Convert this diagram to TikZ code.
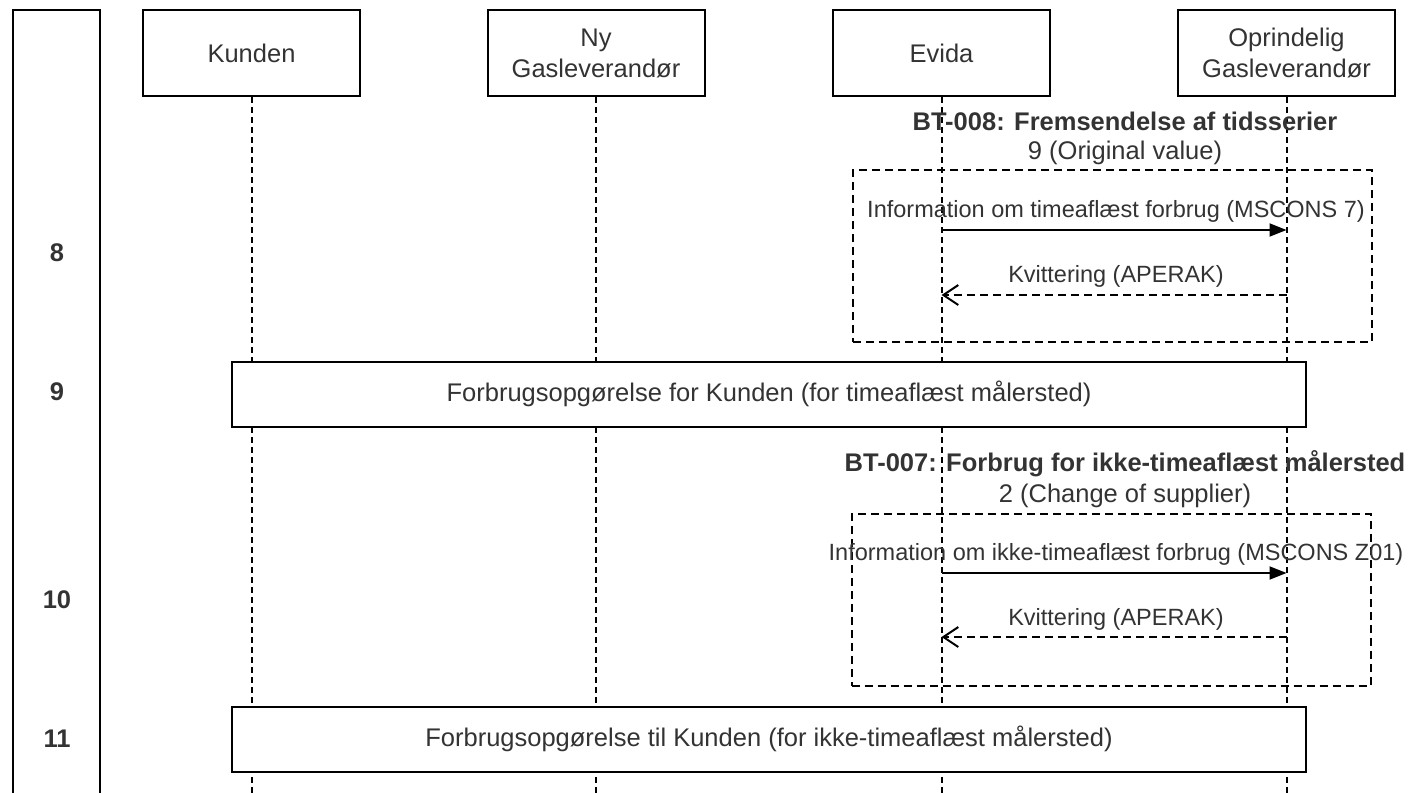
\documentclass[tikz,border=0pt]{standalone}
\usepackage{fontspec}
\setmainfont{Liberation Sans}
\usepackage{tikz}
\usetikzlibrary{arrows.meta}
\definecolor{ink}{HTML}{333333}

\begin{document}
\begin{tikzpicture}[x=1pt, y=-1pt,
    actor/.style={draw, line width=2pt, inner sep=0pt, minimum width=217pt, minimum height=86pt, align=center, text=ink, font=\fontsize{25.5}{31}\selectfont},
    lifeline/.style={line width=2pt, dash pattern=on 6pt off 4pt},
    frame/.style={draw, line width=2pt, dash pattern=on 8pt off 5pt, minimum width=519pt, minimum height=172pt},
    stepbox/.style={draw, fill=white, line width=2pt, minimum width=1074pt, minimum height=65pt, text=ink, font=\fontsize{25.5}{31}\selectfont},
    msg/.style={line width=2pt, -{Triangle[length=17pt, width=13pt]}},
    reply/.style={line width=2pt, dash pattern=on 8pt off 5pt, -{Straight Barb[length=15pt, width=20pt]}},
    msglabel/.style={font=\fontsize{23.5}{28}\selectfont, text=ink, inner sep=0pt},
    title/.style={font=\fontsize{25.5}{31}\selectfont, text=ink, inner sep=0pt},
    rownum/.style={font=\fontsize{25.5}{31}\selectfont\bfseries, text=ink, inner sep=0pt}]

    \useasboundingbox (0,0) rectangle (1412,792);

    % Step column (left)
    \node[draw, line width=2pt, minimum width=87pt, minimum height=820pt] (steps) at (56.5, 420) {};
    \node[rownum] (n8) at (57, 253) {8};
    \node[rownum] (n9) at (57, 392) {9};
    \node[rownum] (n10) at (57, 600) {10};
    \node[rownum] (n11) at (57, 739) {11};

    % Participants (top)
    \node[actor] (kunden) at (251.5, 53) {Kunden};
    \node[actor] (nygas) at (596, 53) {Ny\\Gasleverandør};
    \node[actor] (evida) at (941.5, 53) {Evida};
    \node[actor] (oprgas) at (1286.5, 53) {Oprindelig\\Gasleverandør};

    % Lifelines
    \coordinate (bottom) at (0, 800);
    \draw[lifeline] (kunden.south) -- (kunden.south |- bottom);
    \draw[lifeline] (nygas.south) -- (nygas.south |- bottom);
    \draw[lifeline] (evida.south) -- (evida.south |- bottom);
    \draw[lifeline] (oprgas.south) -- (oprgas.south |- bottom);

    % Step 8: BT-008
    \node[title] (bt8) at (1125, 121) {\textbf{BT-008: Fremsendelse af tidsserier}};
    \node[title] (bt8sub) at (1125, 153) {9 (Original value)};
    \node[frame] (f8) at (1112.5, 256) {};
    \coordinate (ev8a) at (evida |- 0,230);
    \coordinate (op8a) at (oprgas |- 0,230);
    \coordinate (ev8b) at (evida |- 0,295);
    \coordinate (op8b) at (oprgas |- 0,295);
    \node[msglabel] (m8a) at (1116, 211) {Information om timeaflæst forbrug (MSCONS 7)};
    \node[msglabel] (m8b) at (1116, 276) {Kvittering (APERAK)};
    \draw[msg] (ev8a) -- (op8a);
    \draw[reply] (op8b) -- (ev8b);

    % Step 9
    \node[stepbox] (s9) at (769, 394) {Forbrugsopgørelse for Kunden (for timeaflæst målersted)};

    % Step 10: BT-007
    \node[title] (bt7) at (1125, 464) {\textbf{BT-007: Forbrug for ikke-timeaflæst målersted}};
    \node[title] (bt7sub) at (1125, 496) {2 (Change of supplier)};
    \node[frame] (f10) at (1111, 600) {};
    \coordinate (ev10a) at (evida |- 0,573);
    \coordinate (op10a) at (oprgas |- 0,573);
    \coordinate (ev10b) at (evida |- 0,637);
    \coordinate (op10b) at (oprgas |- 0,637);
    \node[msglabel] (m10a) at (1116, 554) {Information om ikke-timeaflæst forbrug (MSCONS Z01)};
    \node[msglabel] (m10b) at (1116, 619) {Kvittering (APERAK)};
    \draw[msg] (ev10a) -- (op10a);
    \draw[reply] (op10b) -- (ev10b);

    % Step 11
    \node[stepbox] (s11) at (769, 739) {Forbrugsopgørelse til Kunden (for ikke-timeaflæst målersted)};
\end{tikzpicture}
\end{document}
